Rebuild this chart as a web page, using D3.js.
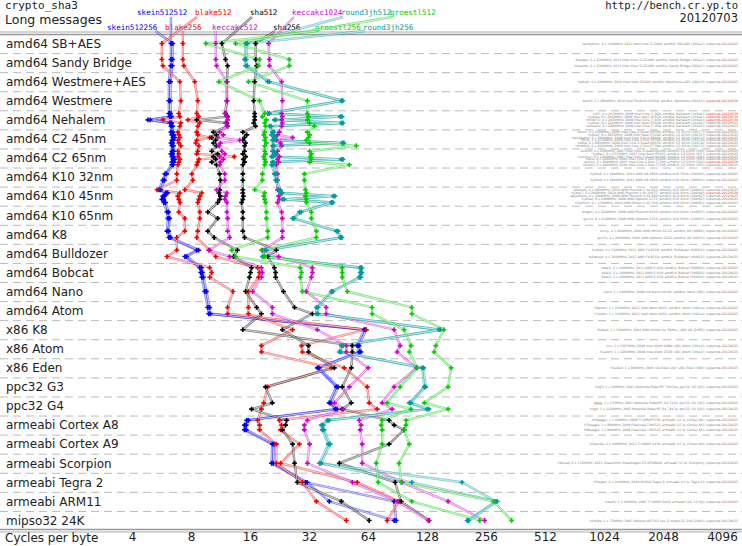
<!DOCTYPE html>
<html>
<head>
<meta charset="utf-8">
<script src="https://cdn.jsdelivr.net/npm/d3@7"></script>
<style>
body { margin: 0; background: #fff; }
</style>
</head>
<body>
<div id="chart"></div>
<script>
// ---- data ----
const rowLabels = ["amd64 SB+AES", "amd64 Sandy Bridge", "amd64 Westmere+AES", "amd64 Westmere",
    "amd64 Nehalem", "amd64 C2 45nm", "amd64 C2 65nm", "amd64 K10 32nm", "amd64 K10 45nm",
    "amd64 K10 65nm", "amd64 K8", "amd64 Bulldozer", "amd64 Bobcat", "amd64 Nano", "amd64 Atom",
    "x86 K8", "x86 Atom", "x86 Eden", "ppc32 G3", "ppc32 G4", "armeabi Cortex A8",
    "armeabi Cortex A9", "armeabi Scorpion", "armeabi Tegra 2", "armeabi ARM11", "mipso32 24K"];

// number of machines measured in each row
const machinesPerRow = [1, 2, 1, 1, 5, 6, 6, 2, 5, 2, 2, 2, 3, 1, 2, 1, 2, 1, 1, 2, 3, 1, 1, 1, 1, 1];

const machineInfo = [
    "sandython; 4 x 3100MHz; 2011 Intel Core i5-2400; amd64; SB+AES (206a7); supercop-20120625",
    "dlauqqc; 2 x 2100MHz; 2011 Intel Core i3-2310M; amd64; Sandy Bridge (206a7); supercop-20120625",
    "h6sandy; 2 x 2100MHz; 2011 Intel Core i3-2310M; amd64; Sandy Bridge (206a7); supercop-20120625",
    "hydra6; 4 x 2400MHz; 2010 Intel Xeon E5620; amd64; Westmere+AES (206c2); supercop-20120625",
    "berlin; 2 x 2800MHz; 2010 Intel Pentium G6950; amd64; Westmere (20652); supercop-20120530",
    "h4i7; 4 x 2670MHz; 2009 Intel Core i7 920; amd64; Nehalem (106a5); supercop-20120530",
    "hydra4; 8 x 2660MHz; 2009 Intel Xeon X5550; amd64; Nehalem (106a5); supercop-20120530",
    "nmi0071; 4 x 2930MHz; 2009 Intel Core i7 870; amd64; Nehalem (106e5); supercop-20120530",
    "hydra5; 8 x 2260MHz; 2009 Intel Xeon E5520; amd64; Nehalem (106a5); supercop-20120625",
    "nehalem; 4 x 2800MHz; 2009 Intel Core i7 860; amd64; Nehalem (106e5); supercop-20120625",
    "latour; 4 x 2500MHz; 2008 Intel Core 2 Quad Q9300; amd64; C2 45nm (10677); supercop-20120625",
    "hydra3; 8 x 2833MHz; 2008 Intel Xeon E5440; amd64; C2 45nm (10676); supercop-20120625",
    "berlekamp; 2 x 3000MHz; 2008 Intel Core 2 Duo E8400; amd64; C2 45nm (1067a); supercop-20120625",
    "h9ivy; 2 x 2530MHz; 2009 Intel Core 2 Duo P8700; amd64; C2 45nm (1067a); supercop-20120625",
    "cobra; 4 x 2830MHz; 2008 Intel Core 2 Quad Q9550; amd64; C2 45nm (1067a); supercop-20120625",
    "nmi0064; 2 x 2660MHz; 2008 Intel Core 2 Duo E7300; amd64; C2 45nm (10676); supercop-20120625",
    "utrecht; 4 x 2400MHz; 2007 Intel Core 2 Quad Q6600; amd64; C2 65nm (6fb); supercop-20120625",
    "hydra1; 8 x 2333MHz; 2007 Intel Xeon E5345; amd64; C2 65nm (6f7); supercop-20120625",
    "cruncher; 4 x 2400MHz; 2007 Intel Core 2 Quad Q6600; amd64; C2 65nm (6fb); supercop-20120625",
    "mace; 2 x 2400MHz; 2006 Intel Core 2 Duo E6600; amd64; C2 65nm (6f6); supercop-20120625",
    "archer; 2 x 2000MHz; 2007 Intel Core 2 Duo T7300; amd64; C2 65nm (6fa); supercop-20120530",
    "h2mini; 2 x 2000MHz; 2006 Intel Core 2 Duo T7200; amd64; C2 65nm (6f6); supercop-20120625",
    "hydra8; 4 x 2900MHz; 2011 AMD A8-3850; amd64; K10 32nm (300f10); supercop-20120625",
    "hydra9; 4 x 2900MHz; 2011 AMD A8-3850; amd64; K10 32nm (300f10); supercop-20120625",
    "phenom; 4 x 2800MHz; 2010 AMD Phenom II X4 925; amd64; K10 45nm (100f42); supercop-20120625",
    "hydra7; 6 x 2800MHz; 2010 AMD Phenom II X6 1055T; amd64; K10 45nm (100fa0); supercop-20120530",
    "speedcore; 4 x 3000MHz; 2009 AMD Phenom II X4 940; amd64; K10 45nm (100f42); supercop-20120625",
    "hydra2; 8 x 2400MHz; 2009 AMD Opteron 2376; amd64; K10 45nm (100f42); supercop-20120625",
    "h3athlon; 2 x 1700MHz; 2010 AMD Athlon II X2 250; amd64; K10 45nm (100f62); supercop-20120625",
    "rangon; 4 x 2200MHz; 2008 AMD Phenom 9550; amd64; K10 65nm (100f23); supercop-20120625",
    "gcc14; 8 x 2100MHz; 2008 AMD Opteron 2352; amd64; K10 65nm (100f23); supercop-20120625",
    "lenny; 2 x 2000MHz; 2006 AMD Athlon 64 X2; amd64; K8 (40fb2); supercop-20120625",
    "gcc11; 4 x 2000MHz; 2006 AMD Opteron 2212; amd64; K8 (40f13); supercop-20120625",
    "hydra0; 4 x 3100MHz; 2011 AMD FX-8120; amd64; Bulldozer (600f12); supercop-20120625",
    "bulldozer; 4 x 3600MHz; 2011 AMD FX-8150; amd64; Bulldozer (600f12); supercop-20120625",
    "bbat1; 2 x 1600MHz; 2011 AMD E-450; amd64; Bobcat (500f20); supercop-20120625",
    "bbat2; 2 x 1600MHz; 2011 AMD E-450; amd64; Bobcat (500f20); supercop-20120625",
    "bbat3; 2 x 1600MHz; 2011 AMD E-350; amd64; Bobcat (500f10); supercop-20120625",
    "nano; 1 x 1000MHz; 2008 VIA Nano U2500; amd64; Nano (6f8); supercop-20120625",
    "h8atom; 1 x 1660MHz; 2011 Intel Atom N455; amd64; Atom (106ca); supercop-20120625",
    "h7atom; 1 x 1660MHz; 2011 Intel Atom N455; amd64; Atom (106ca); supercop-20120625",
    "fireball; 1 x 2400MHz; 2004 AMD Athlon 64 3800+; x86; K8 (20ff2); supercop-20120625",
    "zcx; 1 x 1667MHz; 2008 Intel Atom N280; x86; Atom (106c2); supercop-20120625",
    "h1atom; 1 x 1200MHz; 2008 Intel Atom Z520; x86; Atom (106c2); supercop-20120625",
    "h1eden; 1 x 800MHz; 2005 VIA Eden ULV; x86; Eden (6d0); supercop-20120625",
    "h2g3; 1 x 500MHz; 2001 Motorola PowerPC 750CXe; ppc32; G3 (G3); supercop-20120625",
    "gggg; 1 x 533MHz; 2001 Motorola PowerPC G4 7410; ppc32; G4 (G4); supercop-20120625",
    "h4g4; 1 x 1420MHz; 2005 Motorola PowerPC G4 7447a; ppc32; G4 (G4); supercop-20120625",
    "h6beagle; 1 x 600MHz; 2008 TI OMAP3530; armeabi (v7-A, Cortex A8); supercop-20120625",
    "h7beagle; 1 x 800MHz; 2009 Freescale i.MX515; armeabi (v7-A, Cortex A8); supercop-20120625",
    "h8beagle; 1 x 800MHz; 2009 Freescale i.MX515; armeabi (v7-A, Cortex A8); supercop-20120625",
    "h5panda; 2 x 1000MHz; 2011 TI OMAP 4430; armeabi (v7-A, Cortex A9); supercop-20120625",
    "h9snap; 2 x 1782MHz; 2011 Qualcomm Snapdragon S3 APQ8060; armeabi (v7-A, Scorpion); supercop-20120625",
    "h5tegra; 2 x 1000MHz; 2010 NVIDIA Tegra 2; armeabi (v7-A, Tegra 2); supercop-20120625",
    "h4arm; 1 x 600MHz; 2007 TI OMAP 2420; armeabi (v6, 1136J); supercop-20120625",
    "h1mips; 1 x 720MHz; 2007 Atheros AR7161 rev 2; mipso32; 24K (24Kc); supercop-20120625"
];
// machines whose supercop version tag is flagged
const flaggedMachines = [4, 5, 6, 7, 20, 25];

const tickValues = [4, 8, 16, 32, 64, 128, 256, 512, 1024, 2048, 4096];

// cycles per byte, one value per machine (56 machines, in row order)
const skein512512 = [6.32, 6.32, 6.30, 6.17, 6.17,
    6.17, 6.24, 4.82, 6.24, 6.32, 6.32, 6.39, 6.47, 6.39, 6.32, 6.39,
    6.39, 6.32, 6.39, 6.47, 6.39, 6.39, 5.89, 5.75, 5.49, 5.96, 5.75, 5.68, 5.82,
    6.03, 6.10, 6.03, 6.17, 8.56, 7.44, 8.87, 8.97, 9.08, 9.40, 9.74, 9.85,
    61.2, 56.4, 57.7, 35.3, 44.1, 40.6, 43.6, 15.4, 15.0, 15.0, 20.8, 20.6, 30.7, 87.0, 89.0];
const skein512256 = [6.45, 6.44, 6.42, 6.30, 6.28,
    6.30, 6.36, 4.95, 6.37, 6.45, 6.44, 6.52, 6.60, 6.50, 6.45, 6.51,
    6.52, 6.45, 6.50, 6.60, 6.52, 6.50, 6.00, 5.86, 5.60, 6.08, 5.86, 5.80, 5.93,
    6.15, 6.22, 6.15, 6.30, 8.75, 7.60, 9.05, 9.15, 9.25, 9.60, 9.95, 10.05,
    62.5, 57.6, 58.9, 36.0, 45.0, 41.4, 44.5, 15.7, 15.3, 15.3, 21.2, 21.0, 31.3, 40.6, 87.0];
const blake512 = [5.68, 5.68, 5.75, 7.02, 7.10,
    6.93, 7.02, 5.75, 7.10, 7.02, 6.85, 6.93, 7.02, 6.85, 6.93, 7.10,
    6.85, 6.93, 6.85, 7.02, 6.93, 6.85, 6.77, 6.77, 5.37, 7.02, 6.85, 6.93, 7.02,
    6.93, 7.44, 7.44, 6.77, 6.77, 6.03, 9.97, 10.2, 9.97, 13.1, 12.3, 12.3,
    62.7, 29.3, 29.6, 48.4, 63.4, 64.9, 71.3, 22.6, 23.2, 22.9, 28.6, 22.9, 56.4, 92.2, 80.1];
const blake256 = [7.27, 7.27, 7.35, 8.36, 8.66,
    8.56, 8.77, 7.71, 8.87, 8.66, 8.56, 8.66, 9.97, 8.56, 8.46, 8.77,
    8.66, 8.56, 13.3, 8.77, 8.66, 8.56, 8.08, 8.17, 7.44, 9.08, 8.87, 8.77, 8.66,
    8.87, 8.87, 8.66, 8.56, 9.97, 10.7, 17.5, 17.9, 17.7, 15.7, 15.7, 15.7,
    26.4, 18.3, 18.3, 41.6, 19.7, 18.8, 18.3, 17.5, 17.9, 17.9, 21.8, 21.8, 29.6, 34.9, 49.6];
const sha512 = [11.5, 12.0, 12.3, 12.2, 12.2,
    12.0, 12.3, 8.56, 12.2, 12.3, 10.4, 10.8, 10.2, 10.7, 10.4, 10.8,
    10.2, 10.95, 10.4, 10.7, 10.2, 10.8, 11.2, 11.3, 11.2, 11.1, 11.3, 11.2, 10.95,
    9.74, 10.95, 9.74, 10.5, 13.8, 13.2, 16.3, 16.1, 15.9, 15.2, 17.3, 18.3,
    14.7, 53.2, 53.2, 52.6, 47.3, 52.6, 47.3, 82.0, 87.0, 97.8, 82.0, 45.7, 88.0, 94.4, 131];
const sha256 = [17.1, 17.1, 17.3, 16.9, 16.7,
    16.9, 16.9, 16.9, 16.7, 17.1, 14.7, 15.4, 15.0, 14.7, 15.2, 15.0,
    15.0, 14.7, 15.2, 14.8, 15.0, 14.7, 14.7, 14.7, 14.7, 14.7, 14.8, 14.7, 14.5,
    14.7, 14.7, 14.7, 15.0, 21.8, 19.7, 21.3, 21.6, 21.6, 23.7, 27.0, 33.3,
    23.4, 31.8, 31.8, 43.1, 19.2, 20.8, 16.3, 24.6, 24.3, 23.4, 26.4, 27.0, 27.9, 46.8, 64.9];
const keccakc1024 = [19.9, 20.1, 20.1, 23.2, 23.4,
    23.2, 23.4, 23.2, 23.4, 23.2, 22.6, 22.1, 26.4, 21.8, 22.9, 23.2,
    22.1, 21.8, 22.6, 22.1, 22.4, 21.8, 22.1, 22.1, 22.1, 23.2, 22.4, 22.6, 22.1,
    23.2, 23.4, 23.4, 23.4, 18.5, 22.4, 33.3, 33.3, 32.9, 31.0, 39.2, 39.2,
    87.0, 93.3, 90.1, 113, 87.0, 75.6, 85.0, 57.7, 59.0, 58.4, 59.8, 59.8, 95.5, 164, 252];
const keccakc512 = [10.7, 10.7, 10.8, 12.2, 12.2,
    11.9, 12.2, 12.3, 12.0, 12.2, 11.2, 11.7, 10.95, 14.2, 11.3, 11.1,
    11.5, 11.9, 11.2, 11.7, 11.3, 11.2, 11.9, 11.9, 10.8, 12.2, 12.0, 11.9, 12.2,
    12.2, 12.3, 12.3, 12.6, 9.85, 12.6, 18.3, 18.5, 18.3, 16.5, 20.8, 20.8,
    35.3, 49.6, 49.6, 64.1, 51.4, 43.1, 47.9, 31.4, 30.3, 30.3, 32.2, 31.4, 53.2, 90.1, 130];
const round3jh512 = [15.2, 15.0, 15.2, 19.7, 46.8,
    19.7, 46.2, 21.3, 46.8, 20.1, 20.8, 20.6, 21.3, 20.8, 47.3, 20.8,
    20.8, 21.3, 20.6, 46.8, 20.8, 20.6, 21.3, 21.6, 22.4, 22.9, 42.6, 23.4, 41.6,
    28.6, 26.4, 44.1, 46.2, 19.0, 18.5, 58.4, 58.4, 57.7, 41.6, 34.9, 34.9,
    147, 46.8, 45.7, 121, 124, 104, 128, 39.7, 37.0, 37.4, 40.2, 36.2, 193, 287, 205];
const round3jh256 = [15.5, 15.3, 15.5, 20.1, 47.6,
    20.1, 47.2, 21.7, 47.7, 20.5, 21.2, 21.0, 21.7, 21.2, 48.2, 21.2,
    21.2, 21.7, 21.0, 47.7, 21.2, 21.0, 21.7, 22.0, 22.8, 23.3, 43.4, 23.9, 42.4,
    29.2, 26.9, 45.0, 47.1, 19.4, 18.9, 59.5, 59.5, 58.8, 42.4, 35.6, 35.6,
    150, 47.7, 46.6, 123, 126, 106, 131, 40.5, 37.7, 38.1, 41.0, 36.9, 107, 292, 209];
const groestl512 = [13.5, 25.4, 25.4, 15.7, 31.4,
    31.4, 31.8, 31.4, 32.2, 34.1, 31.4, 32.2, 31.8, 31.0, 32.2, 55.8,
    32.2, 32.9, 32.5, 32.9, 32.2, 51.4, 30.3, 30.3, 30.7, 31.0, 30.7, 31.0, 31.0,
    32.9, 32.9, 34.9, 34.9, 18.3, 19.0, 47.3, 47.3, 47.3, 50.2, 107, 107,
    156, 142, 139, 170, 164, 124, 164, 100, 100, 97.8, 104, 92.2, 94.4, 280, 346];
const groestl256 = [9.51, 17.9, 17.7, 11.1, 17.9,
    19.0, 18.5, 19.4, 19.0, 19.2, 19.0, 18.8, 19.2, 19.0, 19.4, 19.0,
    19.0, 19.2, 18.8, 19.0, 19.2, 19.0, 18.5, 18.5, 16.9, 19.0, 18.8, 19.0, 19.2,
    19.4, 19.4, 19.7, 19.7, 12.9, 13.5, 28.9, 29.3, 28.9, 29.6, 67.2, 67.2,
    97.8, 106, 104, 114, 93.3, 80.1, 106, 75.6, 74.7, 75.6, 75.6, 70.5, 72.1, 107, 238];

const series = [
    {name: "skein512512", values: skein512512, color: "#0000ee"},
    {name: "skein512256", values: skein512256, color: "#0000ee"},
    {name: "blake512", values: blake512, color: "#ee0000"},
    {name: "blake256", values: blake256, color: "#ee0000"},
    {name: "sha512", values: sha512, color: "#000000"},
    {name: "sha256", values: sha256, color: "#000000"},
    {name: "keccakc1024", values: keccakc1024, color: "#cc00cc"},
    {name: "keccakc512", values: keccakc512, color: "#cc00cc"},
    {name: "round3jh512", values: round3jh512, color: "#009999"},
    {name: "round3jh256", values: round3jh256, color: "#009999"},
    {name: "groestl512", values: groestl512, color: "#00cc00"},
    {name: "groestl256", values: groestl256, color: "#00cc00"}
];

// legend label placement: [left x, line]
const legendLayout = {
    skein512512: [137, 0], blake512: [195, 0], sha512: [250, 0],
    keccakc1024: [292, 0], round3jh512: [341, 0], groestl512: [390, 0],
    skein512256: [107, 1], blake256: [165, 1], keccakc512: [212, 1],
    sha256: [273, 1], groestl256: [315, 1], round3jh256: [363, 1]
};

// ---- drawing ----
const width = 742, height = 546;
const rowTop = 34, rowBottom = 530;

const svg = d3.select("#chart")
    .append("svg")
    .attr("width", width)
    .attr("height", height)
    .style("font-family", "'DejaVu Sans', sans-serif");

const x = d3.scaleLog().base(2)
    .domain([4, 4096])
    .range([132, 722]);

const y = d3.scaleBand()
    .domain(rowLabels)
    .range([rowTop, rowBottom])
    .padding(0);

// y position of each machine inside its row
const machineY = [];
machinesPerRow.forEach(function (n, r) {
    for (let k = 0; k < n; k++) {
        machineY.push(y(rowLabels[r]) + y.bandwidth() * (k + 1) / (n + 1));
    }
});

// dashed separators between rows
svg.append("g")
    .selectAll("line")
    .data(rowLabels.slice(1))
    .enter()
    .append("line")
    .attr("x1", 0).attr("x2", width)
    .attr("y1", d => y(d) + 0.5).attr("y2", d => y(d) + 0.5)
    .attr("stroke", "#bbbbbb")
    .attr("stroke-width", 1)
    .attr("stroke-dasharray", "8,5");

// double rules at top and bottom
[[rowTop - 2, 1, "#aaaaaa"], [rowTop + 0.5, 1.4, "#999999"],
 [rowBottom - 0.5, 1.4, "#999999"], [rowBottom + 2, 1, "#aaaaaa"]].forEach(function (r) {
    svg.append("line")
        .attr("x1", 0).attr("x2", width)
        .attr("y1", r[0]).attr("y2", r[0])
        .attr("stroke", r[2]).attr("stroke-width", r[1]);
});

// row labels
svg.append("g")
    .selectAll("text")
    .data(rowLabels)
    .enter()
    .append("text")
    .attr("x", 6)
    .attr("y", d => y(d) + y.bandwidth() / 2)
    .attr("dy", "0.36em")
    .style("font-size", "12px")
    .attr("fill", "#222")
    .text(d => d);

// machine descriptions on the right
const info = svg.append("g")
    .style("font-size", "3.2px")
    .attr("fill", "#808080")
    .attr("text-anchor", "end");
machineInfo.forEach(function (s, i) {
    const cut = s.lastIndexOf("; ");
    const t = info.append("text")
        .attr("x", 738)
        .attr("y", machineY[i])
        .attr("dy", "0.35em");
    t.append("tspan").text(s.slice(0, cut + 2));
    t.append("tspan")
        .attr("fill", flaggedMachines.includes(i) ? "#ee3333" : "#808080")
        .text(s.slice(cut + 2));
});

// header texts
svg.append("text").attr("x", 5).attr("y", 9)
    .style("font-family", "'DejaVu Sans Mono', monospace").style("font-size", "11px")
    .attr("fill", "#222").text("crypto_sha3");
svg.append("text").attr("x", 5).attr("y", 23.5)
    .style("font-size", "12.5px").attr("fill", "#222").text("Long messages");
svg.append("text").attr("x", 738).attr("y", 9).attr("text-anchor", "end")
    .style("font-family", "'DejaVu Sans Mono', monospace").style("font-size", "10.5px")
    .attr("fill", "#222").text("http://bench.cr.yp.to");
svg.append("text").attr("x", 738).attr("y", 22).attr("text-anchor", "end")
    .style("font-size", "11.5px").attr("fill", "#222").text("20120703");

const line = d3.line().x(d => d[0]).y(d => d[1]);

function doubleLine(g, pts, color) {
    g.append("path")
        .attr("d", line(pts))
        .attr("fill", "none")
        .attr("stroke", color)
        .attr("stroke-opacity", 0.5)
        .attr("stroke-width", 2.4)
        .attr("stroke-linejoin", "round");
    g.append("path")
        .attr("d", line(pts))
        .attr("fill", "none")
        .attr("stroke", "#ffffff")
        .attr("stroke-opacity", 0.8)
        .attr("stroke-width", 0.8);
}

// legend labels and leader lines
const legend = svg.append("g")
    .style("font-family", "'DejaVu Sans Mono', monospace")
    .style("font-size", "7.6px");
const lines = svg.append("g");

series.forEach(function (s) {
    const pos = legendLayout[s.name];
    const baseY = pos[1] === 0 ? 15 : 29.5;
    const t = legend.append("text")
        .attr("x", pos[0]).attr("y", baseY)
        .attr("fill", s.color)
        .text(s.name);
    const w = t.node().getComputedTextLength();
    const px = x(s.values[0]);
    const sx = Math.max(pos[0] + 2, Math.min(pos[0] + w - 2, px));
    const sy = pos[1] === 0 ? 17 : 31;
    doubleLine(lines, [[sx, sy], [px, machineY[0]]], s.color);
});

// series lines
series.forEach(function (s) {
    const pts = s.values.map((v, i) => [x(v), machineY[i]]);
    doubleLine(lines, pts, s.color);
});

// markers
const marks = svg.append("g");
series.forEach(function (s) {
    marks.selectAll(null)
        .data(s.values)
        .enter()
        .append("path")
        .attr("transform", (v, i) => "translate(" + x(v) + "," + machineY[i] + ")")
        .attr("d", d3.symbol(d3.symbolCross, 13))
        .attr("fill", s.color);
});

// x axis labels
const axis = svg.append("g")
    .attr("transform", "translate(0," + rowBottom + ")")
    .call(d3.axisBottom(x).tickValues(tickValues).tickFormat(d3.format("d")).tickSize(0).tickPadding(2.5));
axis.select(".domain").remove();
axis.selectAll("text")
    .style("font-family", "'DejaVu Sans', sans-serif")
    .style("font-size", "12px")
    .attr("fill", "#222");

svg.append("text")
    .attr("x", 5).attr("y", 541.5)
    .style("font-size", "12px")
    .attr("fill", "#222")
    .text("Cycles per byte");
</script>
</body>
</html>
